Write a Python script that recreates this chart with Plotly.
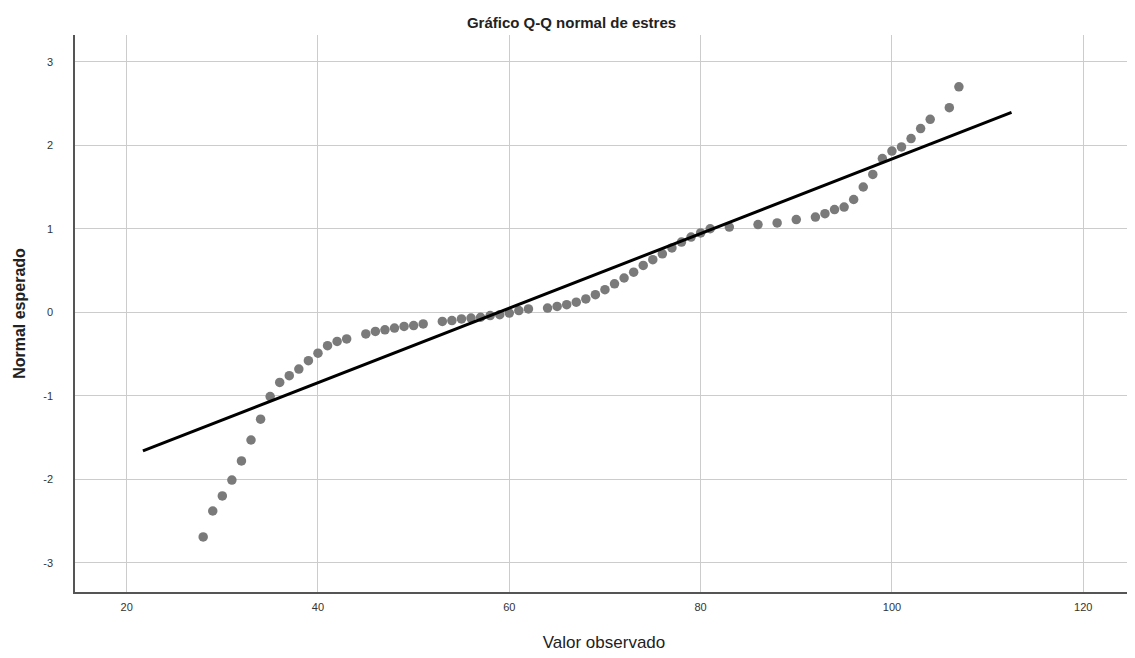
import plotly.graph_objects as go

# Observed values (x) and expected normal quantiles (y)
observed = [28, 29, 30, 31, 32, 33, 34, 35, 36, 37, 38, 39, 40, 41, 42, 43,
            45, 46, 47, 48, 49, 50, 51,
            53, 54, 55, 56, 57, 58, 59, 60, 61, 62,
            64, 65, 66, 67, 68, 69, 70, 71, 72, 73, 74, 75, 76, 77, 78, 79, 80, 81,
            83, 86, 88, 90, 92, 93, 94, 95, 96, 97, 98, 99, 100, 101, 102, 103, 104, 106, 107]
expected = [-2.69, -2.38, -2.20, -2.01, -1.78, -1.53, -1.28, -1.01, -0.84, -0.76, -0.68, -0.58, -0.49, -0.40, -0.35, -0.32,
            -0.26, -0.23, -0.21, -0.19, -0.17, -0.16, -0.14,
            -0.11, -0.10, -0.08, -0.07, -0.06, -0.04, -0.03, -0.01, 0.02, 0.04,
            0.05, 0.07, 0.09, 0.12, 0.16, 0.21, 0.27, 0.34, 0.41, 0.48, 0.56, 0.63, 0.70, 0.77, 0.84, 0.90, 0.95, 1.00,
            1.02, 1.05, 1.07, 1.11, 1.14, 1.18, 1.23, 1.26, 1.35, 1.50, 1.65, 1.84, 1.93, 1.98, 2.08, 2.20, 2.31, 2.45, 2.70]

# Reference normal line parameters
line_mean = 58.9
line_sd = 22.4
line_x = [21.7, 112.5]
line_y = [(v - line_mean) / line_sd for v in line_x]

x_ticks = [20, 40, 60, 80, 100, 120]
x_labels = ["20", "40", "60", "80", "100", "120"]
y_ticks = [-3, -2, -1, 0, 1, 2, 3]
y_labels = ["-3", "-2", "-1", "0", "1", "2", "3"]

fig = go.Figure()
fig.add_trace(go.Scatter(x=observed, y=expected, mode="markers",
                         marker=dict(color="#7a7a7a", size=9.5, line=dict(width=0)),
                         showlegend=False))
fig.add_trace(go.Scatter(x=line_x, y=line_y, mode="lines",
                         line=dict(color="#000000", width=3), showlegend=False))

fig.update_layout(
    width=1127, height=650,
    margin=dict(l=67, r=2, t=27, b=66),
    paper_bgcolor="white", plot_bgcolor="white",
    title=dict(text="<b>Gráfico Q-Q normal de estres</b>", x=0.5, xanchor="center",
               y=0.978, yanchor="middle",
               font=dict(family="Liberation Sans, Arial", size=15, color="#222222")),
    font=dict(family="Liberation Sans, Arial", color="#333333"),
)
fig.update_xaxes(range=[14.6, 125.2], tickvals=x_ticks, ticktext=x_labels, showgrid=True,
                 gridcolor="#cccccc", gridwidth=1, zeroline=False, showline=True,
                 linecolor="#555555", linewidth=1.5, automargin=False,
                 ticks="", ticklabelstandoff=4, tickfont=dict(size=11, color="#333333"),
                 title=dict(text="Valor observado", font=dict(size=17, color="#222222"), standoff=24))
fig.update_yaxes(range=[-3.35, 3.32], tickvals=y_ticks, ticktext=y_labels, showgrid=True,
                 gridcolor="#cccccc", gridwidth=1, zeroline=False, showline=True,
                 linecolor="#555555", linewidth=1.5, automargin=False,
                 ticks="", ticklabelstandoff=18, tickfont=dict(size=11, color="#333333"),
                 title=dict(text="<b>Normal esperado</b>", font=dict(size=16, color="#222222"), standoff=14))

fig.write_html("out.html")
